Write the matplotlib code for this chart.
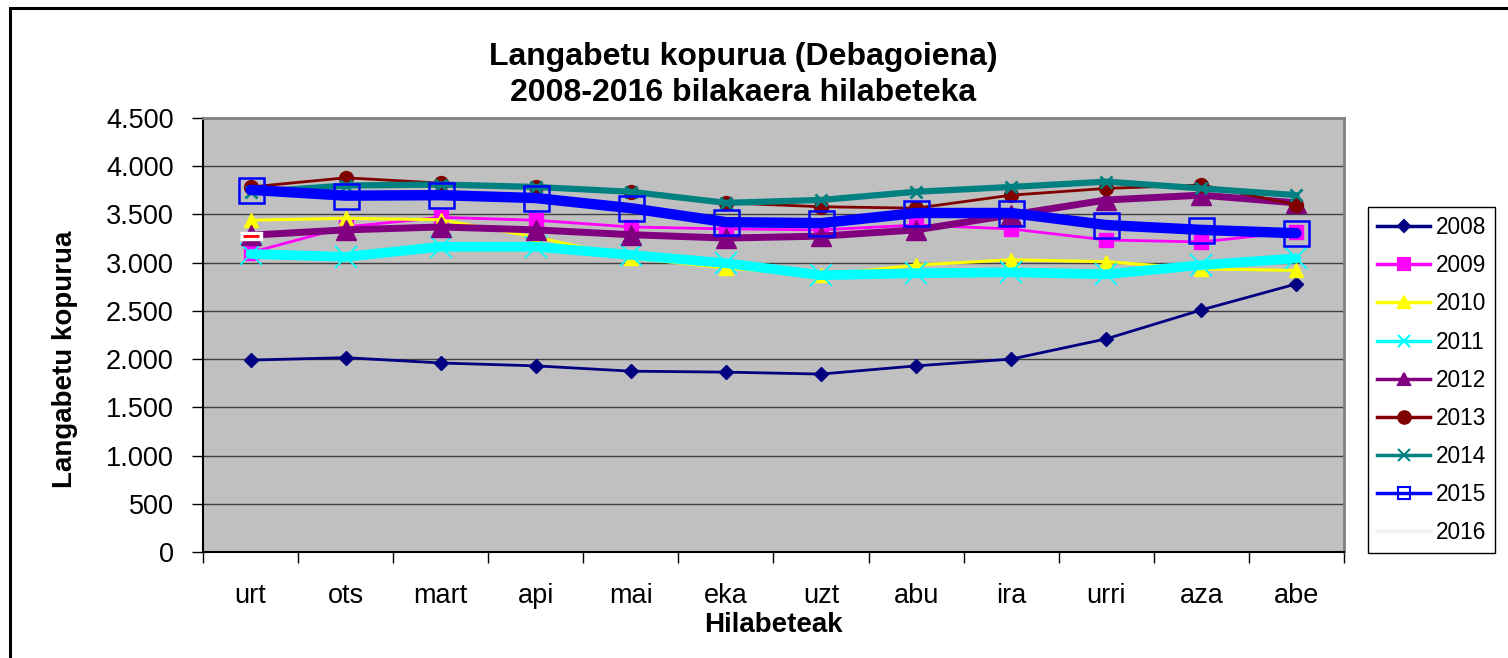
import matplotlib.pyplot as plt
from matplotlib.lines import Line2D
from matplotlib.patches import Rectangle
from matplotlib.ticker import FuncFormatter, FixedLocator
import numpy as np

plt.rcParams['font.family'] = ['Liberation Sans', 'DejaVu Sans']

months = ['urt', 'ots', 'mart', 'api', 'mai', 'eka', 'uzt', 'abu', 'ira', 'urri', 'aza', 'abe']
years = ['2008', '2009', '2010', '2011', '2012', '2013', '2014', '2015', '2016']

y2008 = [1990, 2015, 1960, 1930, 1875, 1865, 1845, 1930, 2000, 2210, 2510, 2780]
y2009 = [3105, 3370, 3470, 3440, 3370, 3350, 3340, 3390, 3350, 3235, 3215, 3320]
y2010 = [3440, 3460, 3445, 3265, 3050, 2945, 2870, 2975, 3030, 3010, 2935, 2920]
y2011 = [3090, 3060, 3165, 3165, 3080, 2995, 2870, 2890, 2900, 2880, 2975, 3045]
y2012 = [3285, 3340, 3370, 3340, 3290, 3255, 3275, 3340, 3495, 3650, 3700, 3620]
y2013 = [3785, 3880, 3825, 3785, 3735, 3620, 3580, 3565, 3700, 3770, 3805, 3600]
y2014 = [3730, 3800, 3810, 3785, 3735, 3620, 3650, 3735, 3785, 3840, 3770, 3700]
y2015 = [3755, 3695, 3700, 3670, 3565, 3420, 3410, 3515, 3515, 3390, 3340, 3305]
y2016 = [3275]

series = [y2008, y2009, y2010, y2011, y2012, y2013, y2014, y2015, y2016]

# colour, line width, marker, marker size, face, mew
styles = [
    ('#000080', 2.0, 'D', 7, '#000080', 1),
    ('#FF00FF', 2.0, 's', 10, '#FF00FF', 1),
    ('#FFFF00', 2.2, '^', 10, '#FFFF00', 1),
    ('#00FFFF', 7.0, 'x', 16, '#00FFFF', 1.3),
    ('#800080', 5.0, '^', 14, '#800080', 1),
    ('#800000', 2.0, 'o', 10, '#800000', 1),
    ('#008080', 4.5, 'x', 9, '#008080', 2),
    ('#0000FF', 7.5, 's', 18, 'none', 1.8),
]

W, H = 1508, 658
fig = plt.figure(figsize=(W / 100, H / 100), dpi=100)
ax = fig.add_axes([203 / W, 1 - 552 / H, (1344 - 203) / W, (552 - 118) / H])
ax.set_facecolor('#C0C0C0')

x = np.arange(len(months))
for vals, st in zip(series[:8], styles):
    c, lw, m, ms, fc, mew = st
    ax.plot(x[:len(vals)], vals, color=c, lw=lw, marker=m, markersize=ms,
            markerfacecolor=fc, markeredgecolor=c, markeredgewidth=mew,
            solid_joinstyle='round', solid_capstyle='round')

# 2016: only january, odd white/red marker
box = [(-1.5, -0.5), (1.5, -0.5), (1.5, 0.5), (-1.5, 0.5)]
ax.plot(x[:len(y2016)], y2016, color='#F2F2F2', lw=2, marker=box, markersize=16,
        markerfacecolor='white', markeredgecolor='white')
ax.plot(x[:len(y2016)], y2016, ls='none', marker='_', markersize=11,
        markeredgecolor='red', markeredgewidth=2)

ax.set_xlim(-0.5, len(months) - 0.5)
ax.set_ylim(0, 4500)
ax.set_yticks(np.arange(0, 4501, 500))
ax.yaxis.set_major_formatter(FuncFormatter(lambda v, p: '{:,}'.format(int(v)).replace(',', '.')))
ax.grid(axis='y', color='#404040', lw=1)
ax.set_axisbelow(True)

ax.xaxis.set_major_locator(FixedLocator(np.arange(-0.5, len(months), 1)))
ax.xaxis.set_minor_locator(FixedLocator(x))
ax.set_xticklabels([], minor=False)
ax.set_xticklabels(months, minor=True)
ax.tick_params(axis='x', which='major', length=8, width=1, color='black')
ax.tick_params(axis='x', which='minor', length=0, pad=22, labelsize=19.5)
ax.tick_params(axis='y', length=8, width=1, color='black', pad=13, labelsize=19.5)

for s in ['left', 'bottom']:
    ax.spines[s].set_color('black')
    ax.spines[s].set_linewidth(1.5)
for s in ['top', 'right']:
    ax.spines[s].set_color('#808080')
    ax.spines[s].set_linewidth(2)

fig.text(743 / W, 1 - 57 / H, 'Langabetu kopurua (Debagoiena)', ha='center', va='center',
         fontsize=23, fontweight='bold')
fig.text(743 / W, 1 - 93 / H, '2008-2016 bilakaera hilabeteka', ha='center', va='center',
         fontsize=23, fontweight='bold')
fig.text(773 / W, 1 - 625 / H, 'Hilabeteak', ha='center', va='center',
         fontsize=20, fontweight='bold')
fig.text(65 / W, 1 - 359 / H, 'Langabetu kopurua', ha='center', va='center',
         rotation=90, fontsize=20, fontweight='bold')

leg_markers = [('D', 6, None), ('s', 9, None), ('^', 9, None), ('x', 8, None),
               ('^', 9, None), ('o', 9, None), ('x', 9, None), ('s', 9, 'none')]
handles = []
for st, lm in zip(styles, leg_markers):
    c = st[0]
    fc = c if lm[2] is None else 'none'
    handles.append(Line2D([], [], color=c, lw=2.5, marker=lm[0], markersize=lm[1],
                          markerfacecolor=fc, markeredgecolor=c, markeredgewidth=1.5))
handles.append(Line2D([], [], color='#F2F2F2', lw=2.5))

leg = fig.legend(handles, years, loc='upper left', bbox_to_anchor=(1368 / W, 1 - 207 / H),
                 fontsize=16.3, frameon=True, fancybox=False, edgecolor='black',
                 framealpha=1, borderpad=0.4, labelspacing=0.67, handlelength=2.35,
                 handletextpad=0.25, borderaxespad=0)
leg.get_frame().set_linewidth(1)

fig.patches.append(Rectangle((10 / W, -0.1), 1.2, 1.1 - 8 / H, transform=fig.transFigure,
                             fill=False, edgecolor='black', lw=2.2))

fig.savefig('out.png', dpi=100)
